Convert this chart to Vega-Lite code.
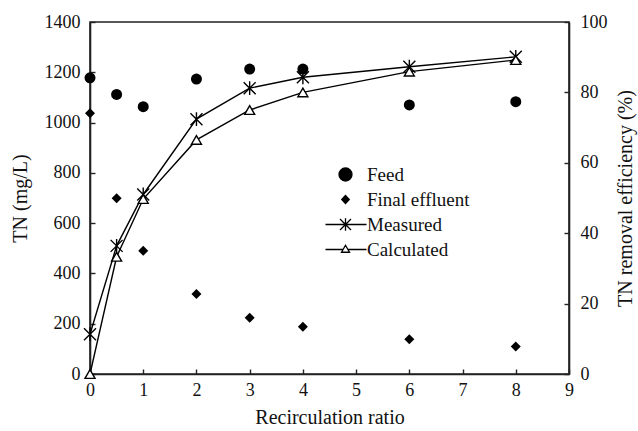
{
  "$schema": "https://vega.github.io/schema/vega-lite/v6.json",
  "width": 479,
  "height": 352,
  "autosize": "none",
  "padding": {"left": 90, "top": 22, "right": 69, "bottom": 57},
  "background": "white",
  "config": {
    "font": "Times New Roman, Liberation Serif, serif",
    "view": {"stroke": "#222", "strokeWidth": 1.6},
    "axis": {
      "domainColor": "#222",
      "domainWidth": 1.6,
      "tickColor": "#222",
      "tickWidth": 1.4,
      "tickSize": -5,
      "grid": false,
      "labelFont": "Times New Roman, Liberation Serif, serif",
      "labelFontSize": 18,
      "labelColor": "#111",
      "titleFont": "Times New Roman, Liberation Serif, serif",
      "titleFontSize": 20,
      "titleFontWeight": "normal",
      "titleColor": "#111"
    },
    "legend": {"labelFont": "Times New Roman, Liberation Serif, serif"}
  },
  "datasets": {
    "tn": [
      {"ratio": 0, "series": "Feed", "value": 1178},
      {"ratio": 0.5, "series": "Feed", "value": 1112},
      {"ratio": 1, "series": "Feed", "value": 1063},
      {"ratio": 2, "series": "Feed", "value": 1173},
      {"ratio": 3, "series": "Feed", "value": 1213},
      {"ratio": 4, "series": "Feed", "value": 1213},
      {"ratio": 6, "series": "Feed", "value": 1070},
      {"ratio": 8, "series": "Feed", "value": 1083},
      {"ratio": 0, "series": "Final effluent", "value": 1037},
      {"ratio": 0.5, "series": "Final effluent", "value": 699},
      {"ratio": 1, "series": "Final effluent", "value": 490},
      {"ratio": 2, "series": "Final effluent", "value": 318},
      {"ratio": 3, "series": "Final effluent", "value": 224},
      {"ratio": 4, "series": "Final effluent", "value": 188},
      {"ratio": 6, "series": "Final effluent", "value": 138},
      {"ratio": 8, "series": "Final effluent", "value": 109}
    ],
    "eff": [
      {"ratio": 0, "series": "Measured", "value": 11.3},
      {"ratio": 0.5, "series": "Measured", "value": 36.4},
      {"ratio": 1, "series": "Measured", "value": 51.0},
      {"ratio": 2, "series": "Measured", "value": 72.4},
      {"ratio": 3, "series": "Measured", "value": 81.2},
      {"ratio": 4, "series": "Measured", "value": 84.3},
      {"ratio": 6, "series": "Measured", "value": 87.3},
      {"ratio": 8, "series": "Measured", "value": 90.1},
      {"ratio": 0, "series": "Calculated", "value": 0},
      {"ratio": 0.5, "series": "Calculated", "value": 33.3},
      {"ratio": 1, "series": "Calculated", "value": 49.7},
      {"ratio": 2, "series": "Calculated", "value": 66.5},
      {"ratio": 3, "series": "Calculated", "value": 75.0},
      {"ratio": 4, "series": "Calculated", "value": 80.0},
      {"ratio": 6, "series": "Calculated", "value": 85.9},
      {"ratio": 8, "series": "Calculated", "value": 89.2}
    ]
  },
  "encoding": {
    "x": {
      "field": "ratio",
      "type": "quantitative",
      "scale": {"domain": [0, 9], "nice": false, "zero": false},
      "axis": {
        "title": "Recirculation ratio",
        "values": [0, 1, 2, 3, 4, 5, 6, 7, 8, 9],
        "format": "d",
        "labelPadding": 12,
        "titlePadding": 8,
        "labelFlush": false
      }
    }
  },
  "layer": [
    {
      "data": {"name": "tn"},
      "encoding": {
        "y": {
          "field": "value",
          "type": "quantitative",
          "scale": {"domain": [0, 1400], "nice": false},
          "axis": {
            "title": "TN (mg/L)",
            "orient": "left",
            "values": [0, 200, 400, 600, 800, 1000, 1200, 1400],
            "format": "d",
            "labelPadding": 15,
            "titleX": -70,
            "titleY": 176,
            "titleAngle": 270,
            "titleAlign": "center",
            "titleBaseline": "middle",
            "labelFlush": false
          }
        }
      },
      "layer": [
        {
          "transform": [{"filter": "datum.series === 'Feed'"}],
          "mark": {"type": "point", "shape": "circle", "filled": true, "color": "black", "size": 121, "opacity": 1}
        },
        {
          "transform": [{"filter": "datum.series === 'Final effluent'"}],
          "mark": {"type": "point", "shape": "diamond", "filled": true, "color": "black", "size": 100, "opacity": 1}
        },
        {
          "mark": {"type": "point", "filled": true, "stroke": "black", "strokeWidth": 1.3, "opacity": 0},
          "encoding": {
            "shape": {
              "field": "series",
              "type": "nominal",
              "scale": {
                "domain": ["Feed", "Final effluent", "Measured", "Calculated"],
                "range": [
                  "M-1.3,0A1.3,1.3,0,1,0,1.3,0A1.3,1.3,0,1,0,-1.3,0Z",
                  "M-0.75,0L0,-0.8L0.75,0L0,0.8Z",
                  "M-4,0H4.2M-1.1,-1.1L1.1,1.1M-1.1,1.1L1.1,-1.1M0,-1.25V1.25",
                  "M-4,0H-0.49M0.49,0H4.2M0,-0.85L0.8,0.55L-0.8,0.55Z"
                ]
              },
              "legend": {
                "title": null,
                "orient": "none",
                "legendX": 246,
                "legendY": 143,
                "symbolSize": 100,
                "symbolStrokeWidth": 1.3,
                "symbolOpacity": 1,
                "labelFontSize": 19,
                "labelColor": "#111",
                "labelOffset": 12,
                "rowPadding": 5,
                "padding": 0
              }
            },
            "fill": {
              "field": "series",
              "type": "nominal",
              "scale": {
                "domain": ["Feed", "Final effluent", "Measured", "Calculated"],
                "range": ["black", "black", "transparent", "white"]
              },
              "legend": {
                "title": null,
                "orient": "none",
                "legendX": 246,
                "legendY": 143,
                "symbolSize": 100,
                "symbolStrokeWidth": 1.3,
                "symbolOpacity": 1,
                "labelFontSize": 19,
                "labelColor": "#111",
                "labelOffset": 12,
                "rowPadding": 5,
                "padding": 0
              }
            }
          }
        }
      ]
    },
    {
      "data": {"name": "eff"},
      "encoding": {
        "y": {
          "field": "value",
          "type": "quantitative",
          "scale": {"domain": [0, 100], "nice": false},
          "axis": {
            "title": "TN removal efficiency (%)",
            "orient": "right",
            "values": [0, 20, 40, 60, 80, 100],
            "format": "d",
            "labelPadding": 16,
            "titleX": 56,
            "titleY": 176,
            "titleAngle": 270,
            "titleAlign": "center",
            "titleBaseline": "middle",
            "labelFlush": false
          }
        }
      },
      "layer": [
        {
          "transform": [{"filter": "datum.series === 'Measured'"}],
          "mark": {"type": "line", "color": "black", "strokeWidth": 1.4}
        },
        {
          "transform": [{"filter": "datum.series === 'Calculated'"}],
          "mark": {"type": "line", "color": "black", "strokeWidth": 1.4}
        },
        {
          "transform": [{"filter": "datum.series === 'Measured'"}],
          "mark": {
            "type": "point",
            "shape": "M-1,-1L1,1M-1,1L1,-1M0,-1.15V1.15",
            "size": 144,
            "filled": false,
            "stroke": "black",
            "strokeWidth": 1.4,
            "opacity": 1
          }
        },
        {
          "transform": [{"filter": "datum.series === 'Calculated'"}],
          "mark": {
            "type": "point",
            "shape": "triangle-up",
            "size": 100,
            "filled": true,
            "fill": "white",
            "stroke": "black",
            "strokeWidth": 1.4,
            "opacity": 1
          }
        }
      ]
    }
  ],
  "resolve": {"scale": {"y": "independent"}}
}
